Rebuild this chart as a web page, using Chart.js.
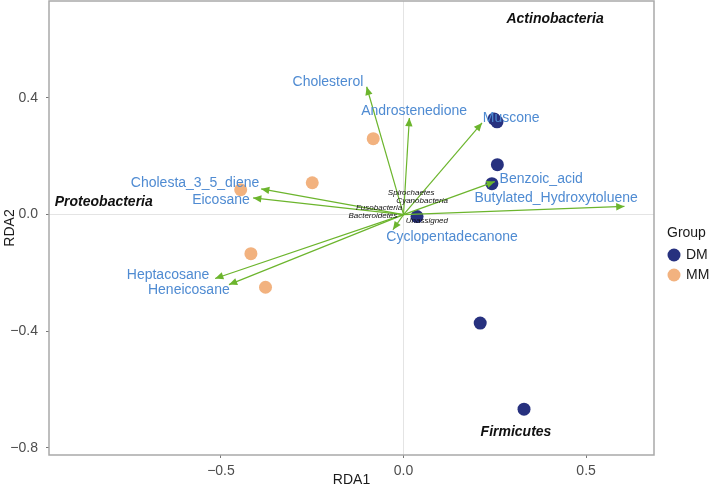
<!DOCTYPE html>
<html>
<head>
<meta charset="utf-8">
<script src="https://cdn.jsdelivr.net/npm/chart.js@4.4.1/dist/chart.umd.min.js"></script>
<style>
  html, body { margin: 0; padding: 0; background: #fff; }
</style>
</head>
<body>
<canvas id="rdaChart" width="709" height="488"></canvas>
<script>
// sample scores (RDA1, RDA2)
const dmX = [0.248, 0.256, 0.257, 0.242, 0.037, 0.210, 0.330];
const dmY = [0.328, 0.318, 0.171, 0.106, -0.007, -0.372, -0.667];
const mmX = [-0.083, -0.250, -0.446, -0.418, -0.378];
const mmY = [0.260, 0.109, 0.085, -0.134, -0.249];

// metabolite vectors
const envNames = ['Cholesterol', 'Androstenedione', 'Muscone', 'Benzoic_acid', 'Butylated_Hydroxytoluene',
  'Cholesta_3_5_diene', 'Eicosane', 'Heptacosane', 'Heneicosane', 'Cyclopentadecanone'];
const envX = [-0.101, 0.016, 0.215, 0.250, 0.605, -0.390, -0.412, -0.516, -0.478, -0.029];
const envY = [0.438, 0.331, 0.314, 0.113, 0.028, 0.088, 0.057, -0.219, -0.240, -0.052];
// where the labels sit (repelled text, data units)
const envLabelX = [-0.207, 0.029, 0.295, 0.377, 0.418, -0.571, -0.500, -0.645, -0.588, 0.133];
const envLabelY = [0.455, 0.356, 0.332, 0.123, 0.058, 0.109, 0.051, -0.209, -0.260, -0.079];

// phylum labels
const bigTaxa = ['Actinobacteria', 'Proteobacteria', 'Firmicutes'];
const bigTaxaX = [0.415, -0.821, 0.308];
const bigTaxaY = [0.670, 0.044, -0.745];
const smallTaxa = ['Spirochaetes', 'Cyanobacteria', 'Fusobacteria', 'Bacteroidetes', 'Unassigned'];
const smallTaxaX = [0.021, 0.051, -0.067, -0.084, 0.064];
const smallTaxaY = [0.075, 0.048, 0.024, -0.003, -0.021];

const xTicks = [-0.5, 0.0, 0.5];
const yTicks = [-0.8, -0.4, 0.0, 0.4];

const groups = ['DM', 'MM'];
const groupColors = ['#27317f', '#f2b27f'];

const FONT = "'Liberation Sans', Arial, sans-serif";

const fmt = v => (v < 0 ? '\u2212' : '') + Math.abs(v).toFixed(1);

const arrowPlugin = {
    id: 'arrows',
    afterDatasetsDraw(chart) {
        const { ctx, scales: { x, y } } = chart;
        const x0 = x.getPixelForValue(0), y0 = y.getPixelForValue(0);
        ctx.save();
        ctx.strokeStyle = '#6cb52d';
        ctx.fillStyle = '#6cb52d';
        ctx.lineWidth = 1.2;
        envX.forEach((ex, i) => {
            const x1 = x.getPixelForValue(ex), y1 = y.getPixelForValue(envY[i]);
            const ang = Math.atan2(y1 - y0, x1 - x0);
            ctx.beginPath();
            ctx.moveTo(x0, y0);
            ctx.lineTo(x1, y1);
            ctx.stroke();
            const len = 9, w = 0.42;
            ctx.beginPath();
            ctx.moveTo(x1, y1);
            ctx.lineTo(x1 - len * Math.cos(ang - w), y1 - len * Math.sin(ang - w));
            ctx.lineTo(x1 - len * Math.cos(ang + w), y1 - len * Math.sin(ang + w));
            ctx.closePath();
            ctx.fill();
        });

        ctx.textAlign = 'center';
        ctx.textBaseline = 'middle';
        ctx.fillStyle = '#4f8bd2';
        ctx.font = '14px ' + FONT;
        envNames.forEach((n, i) => {
            ctx.fillText(n, x.getPixelForValue(envLabelX[i]), y.getPixelForValue(envLabelY[i]));
        });

        ctx.fillStyle = '#111';
        ctx.font = 'italic bold 14px ' + FONT;
        bigTaxa.forEach((n, i) => {
            ctx.fillText(n, x.getPixelForValue(bigTaxaX[i]), y.getPixelForValue(bigTaxaY[i]));
        });
        ctx.font = 'italic 8px ' + FONT;
        smallTaxa.forEach((n, i) => {
            ctx.fillText(n, x.getPixelForValue(smallTaxaX[i]), y.getPixelForValue(smallTaxaY[i]));
        });
        ctx.restore();
    },
    afterDraw(chart) {
        const { ctx, chartArea: a } = chart;
        ctx.save();
        // panel border
        ctx.strokeStyle = '#a9a9a9';
        ctx.lineWidth = 1.5;
        ctx.strokeRect(a.left, a.top, a.right - a.left, a.bottom - a.top);
        // legend
        ctx.fillStyle = '#1a1a1a';
        ctx.font = '14px ' + FONT;
        ctx.textBaseline = 'middle';
        ctx.textAlign = 'left';
        ctx.fillText('Group', 667, 233);
        groups.forEach((g, i) => {
            const cy = 255 + i * 20;
            ctx.fillStyle = groupColors[i];
            ctx.beginPath();
            ctx.arc(674, cy, 6.5, 0, Math.PI * 2);
            ctx.fill();
            ctx.fillStyle = '#1a1a1a';
            ctx.fillText(g, 686, cy);
        });
        ctx.restore();
    }
};

const toPts = (xs, ys) => xs.map((v, i) => ({ x: v, y: ys[i] }));

new Chart(document.getElementById('rdaChart'), {
    type: 'scatter',
    data: {
        datasets: [
            { label: 'DM', data: toPts(dmX, dmY), backgroundColor: groupColors[0], borderWidth: 0, pointRadius: 6.5 },
            { label: 'MM', data: toPts(mmX, mmY), backgroundColor: groupColors[1], borderWidth: 0, pointRadius: 6.5 }
        ]
    },
    options: {
        responsive: false,
        animation: false,
        devicePixelRatio: 1,
        layout: { autoPadding: false, padding: { left: 0, right: 55, top: 1, bottom: 0 } },
        plugins: { legend: { display: false }, tooltip: { enabled: false } },
        scales: {
            x: {
                type: 'linear',
                min: -0.971,
                max: 0.686,
                afterFit: s => { s.height = 33; s.paddingLeft = 0; s.paddingRight = 0; },
                afterBuildTicks: s => { s.ticks = xTicks.map(v => ({ value: v })); },
                ticks: { callback: fmt, color: '#4d4d4d', font: { family: FONT, size: 14 }, padding: 5, maxRotation: 0 },
                grid: {
                    color: c => (c.tick && c.tick.value === 0 ? '#e4e4e4' : 'rgba(0,0,0,0)'),
                    tickColor: '#777',
                    tickLength: 3
                },
                border: { display: false },
                title: { display: true, text: 'RDA1', color: '#1a1a1a', font: { family: FONT, size: 14 }, padding: { top: 0, bottom: -1 } }
            },
            y: {
                type: 'linear',
                min: -0.824,
                max: 0.732,
                afterFit: s => { s.width = 49; s.paddingTop = 0; s.paddingBottom = 0; },
                afterBuildTicks: s => { s.ticks = yTicks.map(v => ({ value: v })); },
                ticks: { callback: fmt, color: '#4d4d4d', font: { family: FONT, size: 14 }, padding: 8 },
                grid: {
                    color: c => (c.tick && c.tick.value === 0 ? '#e4e4e4' : 'rgba(0,0,0,0)'),
                    tickColor: '#777',
                    tickLength: 3
                },
                border: { display: false },
                title: { display: true, text: 'RDA2', color: '#1a1a1a', font: { family: FONT, size: 14 }, padding: { top: 2, bottom: 0 } }
            }
        }
    },
    plugins: [arrowPlugin]
});
</script>
</body>
</html>
